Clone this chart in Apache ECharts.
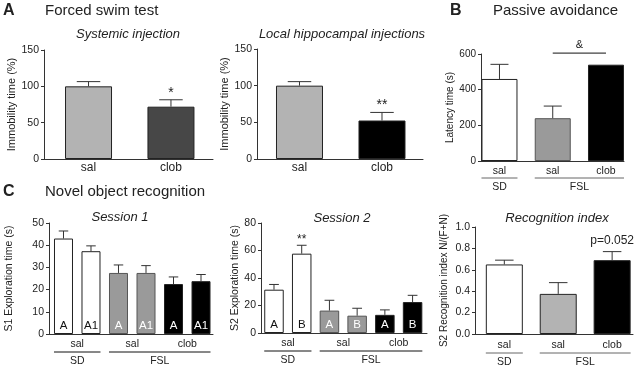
<!DOCTYPE html>
<html>
<head>
<meta charset="utf-8">
<script src="https://cdn.jsdelivr.net/npm/echarts@6/dist/echarts.min.js"></script>
<style>
  html, body { margin: 0; padding: 0; background: #fff; }
  #chart { width: 640px; height: 365px; }
</style>
</head>
<body>
<div id="chart"></div>
<script>
// ---------- data ----------
// A: forced swim test
const fstCats = ['sal', 'clob'];
const fstSysMean = [100, 72];
const fstSysSem = [6.5, 9.5];
const fstSysSig = ['', '*'];
const fstLocMean = [100, 52.5];
const fstLocSem = [5.5, 11];
const fstLocSig = ['', '**'];

// B: passive avoidance
const paTreat = ['sal', 'sal', 'clob'];
const paMean = [460, 240, 540];
const paSem = [82, 68, 0];
const paSig = ['', '', ''];
const paPairSig = '&';        // FSL sal vs FSL clob
const paPair = [1, 2];
const paPairLevel = 605;

// C: novel object recognition
const s1Objects = ['A', 'A1', 'A', 'A1', 'A', 'A1'];
const s1Mean = [43, 37.3, 27.5, 27.5, 22.5, 23.8];
const s1Sem = [3.4, 2.4, 3.6, 3.3, 3.2, 3];
const s1Sig = ['', '', '', '', '', ''];
const s2Objects = ['A', 'B', 'A', 'B', 'A', 'B'];
const s2Mean = [31.5, 57.7, 16.3, 12.6, 13.2, 22.5];
const s2Sem = [3.8, 6.1, 7.5, 5.4, 3.6, 4.9];
const s2Sig = ['', '**', '', '', '', ''];
const sessTreat = ['sal', 'sal', 'clob'];
const riTreat = ['sal', 'sal', 'clob'];
const riMean = [0.65, 0.375, 0.69];
const riSem = [0.04, 0.105, 0.08];
const riSig = ['', '', 'p=0.052'];

const strains = ['SD', 'FSL'];
const pairSpans = [[0, 1], [2, 3], [4, 5]];
const singleSpans2 = [[0, 0], [1, 1]];
const singleSpans3 = [[0, 0], [1, 1], [2, 2]];
const strainSpans6 = [[0, 1], [2, 5]];
const strainSpans3 = [[0, 0], [1, 2]];

// ---------- look ----------
const FONT = '"Liberation Sans", Arial, Helvetica, sans-serif';
const INK = '#222';
const AXIS = '#333';
const WHITE = '#ffffff', LGREY = '#b3b3b3', MGREY = '#9a9a9a', DGREY = '#474747', BLACK = '#000000';

const panels = [
  { // A - systemic
    rect: {left: 44, top: 50, width: 169, height: 109}, xMin: -0.54, xMax: 1.51,
    yMax: 150, yStep: 50, yDec: 0, yName: 'Immobility time (%)', nameGap: 24,
    tickFont: 10.5, nameFont: 11, mean: fstSysMean, sem: fstSysSem, sig: fstSysSig,
    sigFont: 14, sigGap: 0, barWidth: 47, colors: [LGREY, DGREY],
    treat: fstCats, treatSpans: singleSpans2, treatFont: 12, treatGap: 9
  },
  { // A - local hippocampal
    rect: {left: 257, top: 49, width: 166, height: 110}, xMin: -0.515, xMax: 1.497,
    yMax: 150, yStep: 50, yDec: 0, yName: 'Immobility time (%)', nameGap: 24,
    tickFont: 10.5, nameFont: 11, mean: fstLocMean, sem: fstLocSem, sig: fstLocSig,
    sigFont: 14, sigGap: 0, barWidth: 47, colors: [LGREY, BLACK],
    treat: fstCats, treatSpans: singleSpans2, treatFont: 12, treatGap: 9
  },
  { // B - passive avoidance
    rect: {left: 481, top: 54, width: 143, height: 107}, xMin: -0.347, xMax: 2.338,
    yMax: 600, yStep: 200, yDec: 0, yName: 'Latency time (s)', nameGap: 21,
    tickFont: 10, nameFont: 10, mean: paMean, sem: paSem, sig: paSig,
    sigFont: 11, sigGap: 2, barWidth: 36, colors: [WHITE, MGREY, BLACK],
    treat: paTreat, treatSpans: singleSpans3, treatFont: 10.5, treatGap: 10,
    strainSpans: strainSpans3, strainGap: 17, groupColor: '#666'
  },
  { // C - session 1
    rect: {left: 49, top: 223, width: 164, height: 111}, xMin: -0.527, xMax: 5.436,
    yMax: 50, yStep: 10, yDec: 0, yName: 'S1 Exploration time (s)', nameGap: 34,
    tickFont: 10.5, nameFont: 10.5, mean: s1Mean, sem: s1Sem, sig: s1Sig,
    sigFont: 12, sigGap: 1, barWidth: 19, colors: [WHITE, WHITE, MGREY, MGREY, BLACK, BLACK],
    inside: s1Objects, treat: sessTreat, treatSpans: pairSpans, treatFont: 10.5, treatGap: 10,
    strainSpans: strainSpans6, strainGap: 18, groupColor: '#111'
  },
  { // C - session 2
    rect: {left: 261, top: 223, width: 166, height: 110}, xMin: -0.469, xMax: 5.52,
    yMax: 80, yStep: 20, yDec: 0, yName: 'S2 Exploration time (s)', nameGap: 20,
    tickFont: 10.5, nameFont: 10.5, mean: s2Mean, sem: s2Sem, sig: s2Sig,
    sigFont: 12, sigGap: 0, barWidth: 19.5, colors: [WHITE, WHITE, MGREY, MGREY, BLACK, BLACK],
    inside: s2Objects, treat: sessTreat, treatSpans: pairSpans, treatFont: 10.5, treatGap: 10,
    strainSpans: strainSpans6, strainGap: 18, groupColor: '#111'
  },
  { // C - recognition index
    rect: {left: 475, top: 227, width: 158, height: 107}, xMin: -0.544, xMax: 2.387,
    yMax: 1, yStep: 0.2, yDec: 1, yName: 'S2 Recognition index N/(F+N)', nameGap: 26,
    tickFont: 10.5, nameFont: 10, mean: riMean, sem: riSem, sig: riSig,
    sigFont: 12, sigGap: 5, barWidth: 37, colors: [WHITE, LGREY, BLACK],
    treat: riTreat, treatSpans: singleSpans3, treatFont: 10.5, treatGap: 11,
    strainSpans: strainSpans3, strainGap: 19, groupColor: '#666'
  }
];

const grids = [], xAxes = [], yAxes = [], series = [];

panels.forEach((p, k) => {
  grids.push(Object.assign({containLabel: false}, p.rect));
  xAxes.push({
    type: 'value', gridIndex: k, min: p.xMin, max: p.xMax,
    axisLine: {show: true, onZero: false, lineStyle: {color: AXIS, width: 1}},
    axisTick: {show: false}, axisLabel: {show: false}, splitLine: {show: false}
  });
  yAxes.push({
    type: 'value', gridIndex: k, min: 0, max: p.yMax, interval: p.yStep,
    name: p.yName, nameLocation: 'middle', nameGap: p.nameGap,
    nameTextStyle: {fontFamily: FONT, fontSize: p.nameFont, color: INK},
    axisLine: {show: true, onZero: false, lineStyle: {color: AXIS, width: 1}},
    axisTick: {show: true, length: 3, lineStyle: {color: AXIS}},
    axisLabel: {
      fontFamily: FONT, fontSize: p.tickFont, color: INK, margin: 5,
      formatter: v => v.toFixed(p.yDec)
    },
    splitLine: {show: false}
  });

  // bars
  series.push({
    type: 'bar', xAxisIndex: k, yAxisIndex: k, barWidth: p.barWidth, silent: true,
    data: p.mean.map((v, i) => ({
      value: [i, v],
      itemStyle: {color: p.colors[i], borderColor: p.colors[i] === MGREY ? '#555' : '#222', borderWidth: 1},
      label: p.inside ? {
        show: true, position: 'insideBottom', distance: 2, formatter: p.inside[i],
        fontFamily: FONT, fontSize: 11.5, color: p.colors[i] === WHITE ? '#111' : '#fff'
      } : {show: false}
    }))
  });

  // error bars (upper whisker) + significance marks
  series.push({
    type: 'custom', xAxisIndex: k, yAxisIndex: k, clip: false, silent: true, z: 3,
    data: p.mean.map((v, i) => [i, v, v + p.sem[i]]),
    encode: {x: 0, y: [1, 2]},
    renderItem: (params, api) => {
      const lo = api.coord([api.value(0), api.value(1)]);
      const hi = api.coord([api.value(0), api.value(2)]);
      const cap = p.barWidth / 2;
      const kids = [];
      const st = {stroke: AXIS, lineWidth: 1};
      if (lo[1] - hi[1] > 0.5) {
        kids.push({type: 'line', shape: {x1: lo[0], y1: lo[1], x2: hi[0], y2: hi[1]}, style: st});
        kids.push({type: 'line', shape: {x1: hi[0] - cap / 2, y1: hi[1], x2: hi[0] + cap / 2, y2: hi[1]}, style: st});
      }
      const s = p.sig[params.dataIndex];
      if (s) {
        kids.push({type: 'text', x: hi[0], y: hi[1] - p.sigGap,
          style: {text: s, fill: INK, font: p.sigFont + 'px ' + FONT, align: 'center', verticalAlign: 'bottom'}});
      }
      return {type: 'group', children: kids};
    }
  });

  // treatment labels under the axis
  series.push({
    type: 'custom', xAxisIndex: k, yAxisIndex: k, clip: false, silent: true,
    data: p.treatSpans.map(s => [s[0], s[1], 0]),
    encode: {x: [0, 1], y: 2},
    renderItem: (params, api) => {
      const a = api.coord([api.value(0), 0]);
      const b = api.coord([api.value(1), 0]);
      return {type: 'text', x: (a[0] + b[0]) / 2, y: a[1] + p.treatGap,
        style: {text: p.treat[params.dataIndex], fill: INK, font: p.treatFont + 'px ' + FONT,
          align: 'center', verticalAlign: 'middle'}};
    }
  });

  // strain groups (line + label)
  if (p.strainSpans) {
    series.push({
      type: 'custom', xAxisIndex: k, yAxisIndex: k, clip: false, silent: true,
      data: p.strainSpans.map(s => [s[0], s[1], 0]),
      encode: {x: [0, 1], y: 2},
      renderItem: (params, api) => {
        const a = api.coord([api.value(0), 0]);
        const b = api.coord([api.value(1), 0]);
        const y = a[1] + p.strainGap;
        return {type: 'group', children: [
          {type: 'line', shape: {x1: a[0] - p.barWidth / 2, y1: y, x2: b[0] + p.barWidth / 2, y2: y},
            style: {stroke: p.groupColor, lineWidth: 1}},
          {type: 'text', x: (a[0] + b[0]) / 2, y: y + 9,
            style: {text: strains[params.dataIndex], fill: INK, font: p.treatFont + 'px ' + FONT,
              align: 'center', verticalAlign: 'middle'}}
        ]};
      }
    });
  }
});

// passive avoidance: FSL sal vs clob bracket
series.push({
  type: 'custom', xAxisIndex: 2, yAxisIndex: 2, clip: false, silent: true,
  data: [[paPair[0], paPair[1], paPairLevel]],
  encode: {x: [0, 1], y: 2},
  renderItem: (params, api) => {
    const a = api.coord([api.value(0), api.value(2)]);
    const b = api.coord([api.value(1), api.value(2)]);
    return {type: 'group', children: [
      {type: 'line', shape: {x1: a[0], y1: a[1], x2: b[0], y2: b[1]}, style: {stroke: '#111', lineWidth: 1}},
      {type: 'text', x: (a[0] + b[0]) / 2, y: a[1] - 3,
        style: {text: paPairSig, fill: INK, font: '11px ' + FONT, align: 'center', verticalAlign: 'bottom'}}
    ]};
  }
});

function label(text, x, y, size, opts) {
  opts = opts || {};
  return {
    type: 'text', x: x, y: y, silent: true,
    style: {
      text: text, fill: INK, align: opts.align || 'left', verticalAlign: 'middle',
      font: (opts.style || '') + ' ' + (opts.weight || 'normal') + ' ' + size + 'px ' + FONT
    }
  };
}

const chart = echarts.init(document.getElementById('chart'), null, {renderer: 'canvas'});
chart.setOption({
  backgroundColor: '#fff',
  animation: false,
  grid: grids,
  xAxis: xAxes,
  yAxis: yAxes,
  series: series,
  graphic: [
    label('A', 3, 11, 16, {weight: 'bold'}),
    label('Forced swim test', 45, 11, 15),
    label('Systemic injection', 128, 34, 13, {align: 'center', style: 'italic'}),
    label('Local hippocampal injections', 342, 34, 13, {align: 'center', style: 'italic'}),
    label('B', 450, 11, 16, {weight: 'bold'}),
    label('Passive avoidance', 493, 11, 15),
    label('C', 3, 192, 16, {weight: 'bold'}),
    label('Novel object recognition', 45, 192, 15),
    label('Session 1', 120, 217, 13, {align: 'center', style: 'italic'}),
    label('Session 2', 342, 218, 13, {align: 'center', style: 'italic'}),
    label('Recognition index', 557, 218, 13, {align: 'center', style: 'italic'})
  ]
});
</script>
</body>
</html>
